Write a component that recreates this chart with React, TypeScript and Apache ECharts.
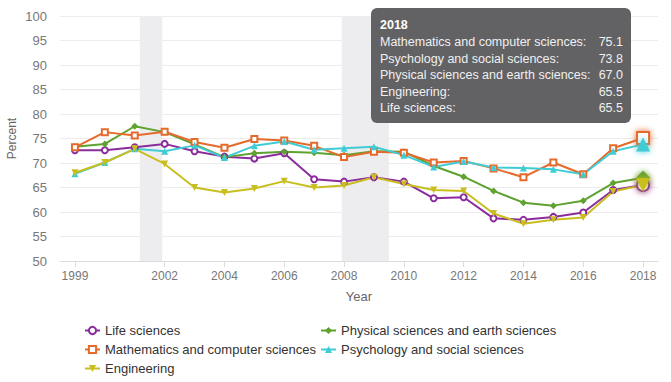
import React, { useEffect, useRef } from "react";
import * as echarts from "echarts";

const years = [1999, 2000, 2001, 2002, 2003, 2004, 2005, 2006, 2007, 2008, 2009, 2010, 2011, 2012, 2013, 2014, 2015, 2016, 2017, 2018];
const tickYears = [1999, 2002, 2004, 2006, 2008, 2010, 2012, 2014, 2016, 2018];
const recessions = [[2001.17, 2001.92], [2007.92, 2009.5]];

const lifeSciences = [72.6, 72.6, 73.2, 73.9, 72.4, 71.3, 70.9, 72.0, 66.7, 66.2, 67.1, 66.2, 62.8, 63.0, 58.7, 58.4, 59.0, 59.9, 64.5, 65.5];
const physicalSciences = [73.3, 73.9, 77.5, 76.3, 73.8, 71.2, 72.0, 72.3, 72.1, 71.6, 72.4, 72.3, 69.4, 67.2, 64.3, 61.9, 61.3, 62.3, 65.9, 67.0];
const mathematics = [73.2, 76.3, 75.6, 76.4, 74.3, 73.1, 74.9, 74.6, 73.5, 71.2, 72.3, 72.1, 70.1, 70.4, 68.9, 67.1, 70.1, 67.7, 73.0, 75.1];
const psychology = [67.8, 70.1, 72.9, 72.4, 73.6, 71.1, 73.5, 74.4, 72.7, 73.0, 73.3, 71.6, 69.2, 70.3, 69.1, 69.0, 68.7, 67.7, 72.4, 73.8];
const engineering = [68.0, 70.1, 72.9, 69.8, 65.0, 64.0, 64.8, 66.3, 65.0, 65.4, 67.1, 65.7, 64.5, 64.3, 59.7, 57.6, 58.4, 58.9, 64.2, 65.5];

const seriesDefs = [
  { name: "Life sciences", data: lifeSciences, color: "#8b2c9c", symbol: "emptyCircle", size: 6 },
  { name: "Physical sciences and earth sciences", data: physicalSciences, color: "#5fa22f", symbol: "diamond", size: 7 },
  { name: "Mathematics and computer sciences", data: mathematics, color: "#e56a2b", symbol: "emptyRect", size: 6 },
  { name: "Psychology and social sciences", data: psychology, color: "#40ccd4", symbol: "triangle", size: 7 },
  { name: "Engineering", data: engineering, color: "#c8be1f", symbol: "path://M0,0 L10,0 L5,9 Z", size: 7 },
];

const tooltipOrder = [
  "Mathematics and computer sciences",
  "Psychology and social sciences",
  "Physical sciences and earth sciences",
  "Engineering",
  "Life sciences",
];

const FONT = "'Liberation Sans', Arial, sans-serif";

export default function App() {
  const ref = useRef<HTMLDivElement>(null);
  useEffect(() => {
    if (!ref.current) return;
    const chart = echarts.init(ref.current, null, { renderer: "svg" });
    const lastIdx = years.length - 1;

    const series: any[] = [
      {
        type: "line",
        data: [],
        z: 1,
        silent: true,
        markArea: {
          silent: true,
          itemStyle: { color: "#ededf0" },
          data: recessions.map((r) => [{ xAxis: r[0] }, { xAxis: r[1] }]),
        },
      },
    ];
    seriesDefs.forEach((s) => {
      series.push({
        type: "line",
        name: s.name,
        z: 3,
        symbol: s.symbol,
        symbolSize: s.size,
        lineStyle: { width: 2, color: s.color },
        itemStyle: { color: s.color, borderWidth: 1.5 },
        data: s.data.map((v, i) => {
          if (i === lastIdx) {
            return {
              value: [years[i], v],
              symbolSize: s.size * 2,
              itemStyle: { color: s.color, borderWidth: 2.5, shadowBlur: 6, shadowColor: s.color },
            };
          }
          return [years[i], v];
        }),
      });
    });

    const TX = 371;
    const TY = 8;
    const tipElements: any[] = [];
    tipElements.push({
      type: "rect",
      z: 100,
      x: TX,
      y: TY,
      shape: { x: 0, y: 0, width: 260, height: 115, r: 6 },
      style: { fill: "rgba(92,92,94,0.96)" },
    });
    tipElements.push({
      type: "text",
      z: 101,
      x: TX + 9,
      y: TY + 17,
      style: { text: String(years[lastIdx]), fill: "#ffffff", font: `bold 12.5px ${FONT}`, verticalAlign: "middle" },
    });
    tooltipOrder.forEach((name, k) => {
      const def = seriesDefs.find((d) => d.name === name)!;
      tipElements.push({
        type: "text",
        z: 101,
        x: TX + 9,
        y: TY + 34 + k * 16.6,
        style: { text: name + ":", fill: "#f0f0f0", font: `12.5px ${FONT}`, verticalAlign: "middle" },
      });
      tipElements.push({
        type: "text",
        z: 101,
        x: TX + 252,
        y: TY + 34 + k * 16.6,
        style: {
          text: def.data[lastIdx].toFixed(1),
          fill: "#f0f0f0",
          font: `12.5px ${FONT}`,
          align: "right",
          verticalAlign: "middle",
        },
      });
    });

    const legendCommon = {
      orient: "vertical",
      itemWidth: 15,
      itemHeight: 9,
      itemGap: 6,
      height: 80,
      textStyle: { color: "#333", fontSize: 13, fontFamily: FONT },
    };

    chart.setOption({
      animation: false,
      backgroundColor: "#ffffff",
      textStyle: { fontFamily: FONT },
      grid: { left: 60, right: 13, top: 16, bottom: 121, outerBoundsMode: "none", containLabel: false },
      xAxis: {
        type: "value",
        min: 1998.5,
        max: 2018.5,
        name: "Year",
        nameLocation: "middle",
        nameGap: 29,
        nameMoveOverlap: false,
        nameTextStyle: { color: "#666", fontSize: 13, fontFamily: FONT },
        axisLine: { lineStyle: { color: "#dcdcdc" } },
        axisTick: { show: true, customValues: tickYears, length: 6, lineStyle: { color: "#dcdcdc" } },
        axisLabel: { customValues: tickYears, color: "#777", fontSize: 12, margin: 9, formatter: (v: number) => String(v) },
        splitLine: { show: false },
      },
      yAxis: {
        type: "value",
        min: 50,
        max: 100,
        interval: 5,
        name: "Percent",
        nameLocation: "middle",
        nameGap: 42,
        nameMoveOverlap: false,
        nameTextStyle: { color: "#666", fontSize: 12, fontFamily: FONT },
        axisLine: { show: false },
        axisTick: { show: false },
        axisLabel: { color: "#777", fontSize: 13, margin: 13 },
        splitLine: { lineStyle: { color: "#ececec" } },
      },
      legend: [
        {
          ...legendCommon,
          left: 79,
          top: 319,
          data: ["Life sciences", "Mathematics and computer sciences", "Engineering"],
        },
        {
          ...legendCommon,
          left: 315,
          top: 319,
          data: ["Physical sciences and earth sciences", "Psychology and social sciences"],
        },
      ],
      graphic: tipElements,
      series,
    });
    return () => chart.dispose();
  }, []);
  return (
    <div
      ref={ref}
      style={{ position: "absolute", left: 0, top: 0, width: 671, height: 382, background: "#fff" }}
    />
  );
}
